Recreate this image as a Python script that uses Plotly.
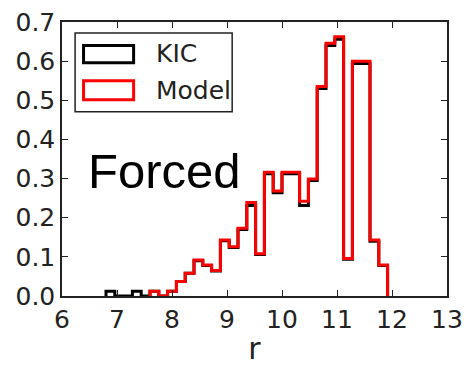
import numpy as np
import plotly.graph_objects as go

# Histogram bins: 32 bins of width 0.16 starting at r = 6.8
bin_start = 6.8
bin_width = 0.16
n_bins = 32

# Normalised counts (density) per bin
kic_density = [0.012, 0.0, 0.0, 0.012, 0.0, 0.012, 0.0, 0.012,
               0.037, 0.058, 0.090, 0.078, 0.064, 0.141, 0.124, 0.170,
               0.231, 0.106, 0.312, 0.264, 0.312, 0.312, 0.231, 0.295,
               0.530, 0.640, 0.656, 0.094, 0.594, 0.594, 0.140, 0.078]
model_density = [0.0, 0.0, 0.0, 0.0, 0.0, 0.012, 0.0, 0.012,
                 0.037, 0.058, 0.092, 0.079, 0.065, 0.143, 0.126, 0.173,
                 0.239, 0.108, 0.316, 0.268, 0.316, 0.316, 0.242, 0.299,
                 0.535, 0.646, 0.662, 0.096, 0.600, 0.600, 0.143, 0.079]

x_ticks = [6, 7, 8, 9, 10, 11, 12, 13]
y_ticks = [0.0, 0.1, 0.2, 0.3, 0.4, 0.5, 0.6, 0.7]

edges = bin_start + bin_width * np.arange(n_bins + 1)


def step_outline(heights):
    """Outline of a step histogram, from the first non-empty bin to the end."""
    h = np.asarray(heights, dtype=float)
    first = int(np.nonzero(h)[0][0])
    xs = [edges[first]] + list(edges[first:-1]) + [edges[-1], edges[-1]]
    ys = [0.0] + list(h[first:]) + [h[-1], 0.0]
    return xs, ys


fig = go.Figure()
for heights, colour in [(kic_density, "black"), (model_density, "#ff0000")]:
    xs, ys = step_outline(heights)
    fig.add_trace(go.Scatter(
        x=xs, y=ys, mode="lines",
        line=dict(color=colour, width=3, shape="hv"),
        showlegend=False, hoverinfo="skip",
    ))

axis_font = dict(family="DejaVu Sans", size=25, color="#222222")
common_axis = dict(
    showgrid=False, zeroline=False, showline=True, linecolor="#222222",
    linewidth=1.5, mirror="allticks", ticks="inside", ticklen=6,
    tickwidth=1.3, tickcolor="#222222", tickfont=axis_font,
    automargin=False,
)

fig.update_layout(
    width=466, height=366,
    margin=dict(l=62, r=19, t=22, b=70),
    paper_bgcolor="white", plot_bgcolor="white",
    xaxis=dict(range=[6, 13], tickvals=x_ticks, **common_axis,
               title=dict(text="r", font=dict(family="DejaVu Sans", size=30,
                                              color="#222222"), standoff=13)),
    yaxis=dict(range=[0, 0.7], tickvals=y_ticks, tickformat=".1f",
               **common_axis),
)

# Legend drawn by hand: outlined patches plus labels
legend_shapes = [
    dict(type="rect", xref="paper", yref="paper", x0=0.034, x1=0.442,
         y0=0.672, y1=0.960, line=dict(color="#222222", width=1.5),
         fillcolor="white", layer="above"),
    dict(type="rect", xref="paper", yref="paper", x0=0.056, x1=0.186,
         y0=0.851, y1=0.914, line=dict(color="black", width=3),
         layer="above"),
    dict(type="rect", xref="paper", yref="paper", x0=0.056, x1=0.186,
         y0=0.716, y1=0.786, line=dict(color="#ff0000", width=3),
         layer="above"),
]
for s in legend_shapes:
    fig.add_shape(**s)

legend_font = dict(family="DejaVu Sans", size=25, color="#222222")
fig.add_annotation(text="KIC", xref="paper", yref="paper", x=0.238, y=0.884,
                   xanchor="left", yanchor="middle", showarrow=False,
                   font=legend_font)
fig.add_annotation(text="Model", xref="paper", yref="paper", x=0.238, y=0.751,
                   xanchor="left", yanchor="middle", showarrow=False,
                   font=legend_font)

fig.add_annotation(text="Forced", xref="paper", yref="paper", x=0.062, y=0.455,
                   xanchor="left", yanchor="middle", showarrow=False,
                   font=dict(family="Liberation Sans", size=49, color="black"))

fig.write_html("out.html")
